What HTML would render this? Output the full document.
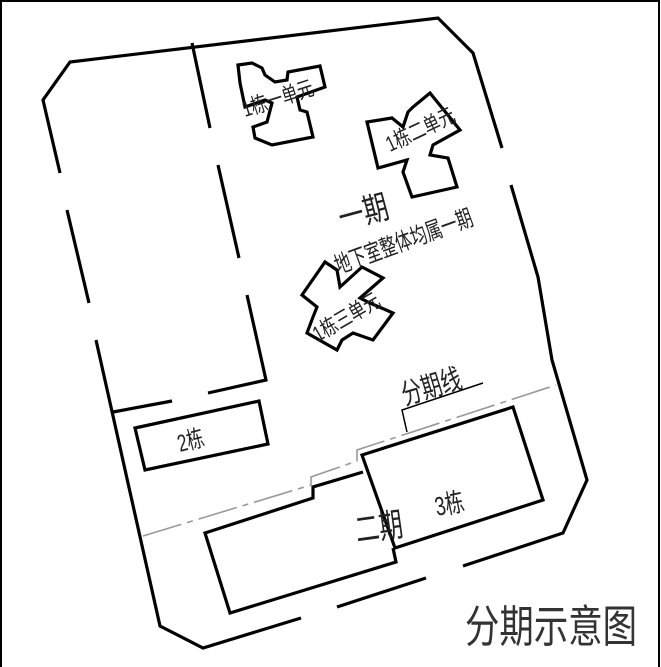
<!DOCTYPE html>
<html><head><meta charset="utf-8"><style>
html,body{margin:0;padding:0;background:#fff}
svg{display:block}
text{font-family:"Liberation Sans","Noto Sans CJK SC",sans-serif;fill:#222}
</style></head><body>
<svg width="661" height="667" viewBox="0 0 661 667" xmlns="http://www.w3.org/2000/svg">
<rect x="1" y="1" width="658" height="670" fill="none" stroke="#000" stroke-width="2"/>
<g fill="none" stroke="#000" stroke-width="3.2" stroke-linejoin="miter">
<polyline points="60,173 43,100 70,62 438,18 473,53 502,148"/>
<line x1="67" y1="210" x2="89" y2="303"/>
<polyline points="511,185 538,277 552,360 587,480 563,533 463,566"/>
<line x1="426" y1="578" x2="337" y2="607"/>
<polyline points="301,618 203,648 160,626 96,340"/>
<line x1="192" y1="43" x2="210" y2="128"/>
<line x1="218" y1="165" x2="239" y2="258"/>
<polyline points="247,295 266,380 208,393"/>
<line x1="113" y1="412" x2="172" y2="401"/>
<polygon points="135,428 259,401 268,444 145,470"/>
<polyline points="363,472 313,487 313,498 205,533 230,613 396,562 393,548"/>
<polygon points="362,455 513,407 543,500 395,548"/>
<polygon points="238,65 252,63 262,68 265,75 275,82 287,80 288,72 320,66 325,87 297,97 300,110 307,112 313,137 272,145 255,138 253,127 267,122 272,103 265,100 245,107 240,83"/>
<polygon points="367,122 392,118 403,127 408,112 413,107 430,93 460,130 433,145 430,155 448,158 457,187 412,197 403,172 407,160 378,168"/>
<polygon points="302,295 325,262 337,270 340,287 362,267 383,278 360,298 370,303 393,313 373,340 353,333 342,340 337,350 307,333 313,317 317,307"/>
</g>
<polyline points="143,536 311,485 311,477 357,461 357,450 556,385" fill="none" stroke="#999" stroke-width="1.6" stroke-dasharray="40,6,6,6"/>
<polyline points="407,432 402,410 483,383" fill="none" stroke="#000" stroke-width="1.5"/>
<text transform="translate(405,405) rotate(-17) scale(0.85,1.2)" font-size="24">分期线</text>
<text transform="translate(342,230) rotate(-15) scale(0.9,1.2)" font-size="28">一期</text>
<text transform="translate(338,274) rotate(-20) scale(0.85,1.25)" font-size="19">地下室整体均属一期</text>
<text transform="translate(245,117) rotate(-18) scale(0.9,1.2)" font-size="18">1栋一单元</text>
<text transform="translate(390,152) rotate(-25) scale(0.9,1.2)" font-size="18">1栋二单元</text>
<text transform="translate(318,342) rotate(-30) scale(0.9,1.2)" font-size="18">1栋三单元</text>
<text transform="translate(180,452) rotate(-15) scale(0.85,1.2)" font-size="20">2栋</text>
<text transform="translate(357,542) rotate(-8) scale(0.85,1.2)" font-size="28">二期</text>
<text transform="translate(437,516) rotate(-12) scale(0.85,1.2)" font-size="22">3栋</text>
<text transform="translate(465,642) scale(0.93,1.2)" font-size="37" style="fill:#333">分期示意图</text>
</svg>
</body></html>
